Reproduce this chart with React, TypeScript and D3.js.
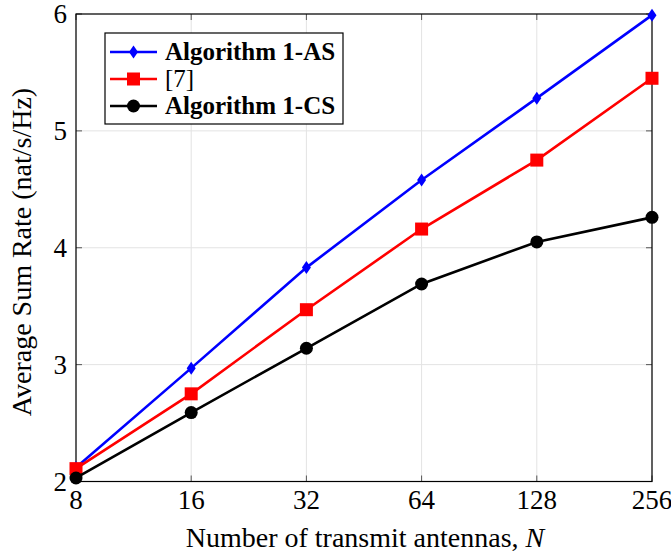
import * as d3 from "d3";

const antennas = [8, 16, 32, 64, 128, 256];
const algAS = [2.12, 2.97, 3.83, 4.58, 5.28, 5.99];
const ref7 = [2.11, 2.75, 3.47, 4.16, 4.75, 5.45];
const algCS = [2.03, 2.59, 3.14, 3.69, 4.05, 4.26];
const yTicks = [2, 3, 4, 5, 6];

const W = 671;
const H = 557;
const M = { left: 76, right: 652, top: 14, bottom: 481.5 };
const FONT = '"Liberation Serif", "DejaVu Serif", serif';
const TICK_FS = 27;
const LABEL_FS = 28;
const LEGEND_FS = 25;

const x = d3.scaleLog().base(2).domain([8, 256]).range([M.left, M.right]);
const y = d3.scaleLinear().domain([2, 6]).range([M.bottom, M.top]);

type Marker = "diamond" | "square" | "circle";

const series: { name: string; values: number[]; color: string; marker: Marker; bold: boolean }[] = [
  { name: "Algorithm 1-AS", values: algAS, color: "#0000ff", marker: "diamond", bold: true },
  { name: "[7]", values: ref7, color: "#ff0000", marker: "square", bold: false },
  { name: "Algorithm 1-CS", values: algCS, color: "#000000", marker: "circle", bold: true },
];

function MarkerShape({ kind, cx, cy, color }: { kind: Marker; cx: number; cy: number; color: string }) {
  if (kind === "diamond")
    return (
      <path
        d={`M${cx},${cy - 6.5} L${cx + 4.5},${cy} L${cx},${cy + 6.5} L${cx - 4.5},${cy} Z`}
        fill={color}
      />
    );
  if (kind === "square")
    return <rect x={cx - 6.5} y={cy - 6.5} width={13} height={13} fill={color} />;
  return <circle cx={cx} cy={cy} r={6.5} fill={color} />;
}

export default function App() {
  const line = d3
    .line<number>()
    .x((_, i) => x(antennas[i]))
    .y((d) => y(d));

  const tickLen = 6;

  return (
    <svg
      width={W}
      height={H}
      style={{ position: "absolute", left: 0, top: 0, background: "#fff", fontFamily: FONT }}
    >
      {/* grid */}
      {antennas.map((n) => (
        <line key={"gx" + n} x1={x(n)} x2={x(n)} y1={M.top} y2={M.bottom} stroke="#e3e3e3" strokeWidth={1} />
      ))}
      {yTicks.map((v) => (
        <line key={"gy" + v} x1={M.left} x2={M.right} y1={y(v)} y2={y(v)} stroke="#e3e3e3" strokeWidth={1} />
      ))}

      {/* ticks (inside, all four sides) */}
      {antennas.map((n) => (
        <g key={"tx" + n} stroke="#555" strokeWidth={1}>
          <line x1={x(n)} x2={x(n)} y1={M.bottom} y2={M.bottom - tickLen} />
          <line x1={x(n)} x2={x(n)} y1={M.top} y2={M.top + tickLen} />
        </g>
      ))}
      {yTicks.map((v) => (
        <g key={"ty" + v} stroke="#555" strokeWidth={1}>
          <line x1={M.left} x2={M.left + tickLen} y1={y(v)} y2={y(v)} />
          <line x1={M.right} x2={M.right - tickLen} y1={y(v)} y2={y(v)} />
        </g>
      ))}

      {/* frame */}
      <rect
        x={M.left}
        y={M.top}
        width={M.right - M.left}
        height={M.bottom - M.top}
        fill="none"
        stroke="#000"
        strokeWidth={1.2}
      />

      {/* series */}
      {series.map((s) => (
        <g key={s.name}>
          <path d={line(s.values) ?? ""} fill="none" stroke={s.color} strokeWidth={2.6} />
          {s.values.map((v, i) => (
            <MarkerShape key={i} kind={s.marker} cx={x(antennas[i])} cy={y(v)} color={s.color} />
          ))}
        </g>
      ))}

      {/* tick labels */}
      {antennas.map((n) => (
        <text key={"lx" + n} x={x(n)} y={509} textAnchor="middle" fontSize={TICK_FS}>
          {n}
        </text>
      ))}
      {yTicks.map((v) => (
        <text key={"ly" + v} x={M.left - 9} y={y(v) + 9} textAnchor="end" fontSize={TICK_FS}>
          {v}
        </text>
      ))}

      {/* axis titles */}
      <text x={365} y={547} textAnchor="middle" fontSize={LABEL_FS}>
        Number of transmit antennas, <tspan fontStyle="italic">N</tspan>
      </text>
      <text
        transform={`translate(31,252) rotate(-90)`}
        textAnchor="middle"
        fontSize={LABEL_FS}
      >
        Average Sum Rate (nat/s/Hz)
      </text>

      {/* legend */}
      <g>
        <rect x={105} y={33} width={238} height={91} fill="#fff" stroke="#000" strokeWidth={1.2} />
        {series.map((s, i) => {
          const cy = 52 + i * 27;
          return (
            <g key={"lg" + s.name}>
              <line x1={110} x2={157} y1={cy} y2={cy} stroke={s.color} strokeWidth={2.6} />
              <MarkerShape kind={s.marker} cx={133.5} cy={cy} color={s.color} />
              <text x={165} y={cy + 8} fontSize={LEGEND_FS} fontWeight={s.bold ? "bold" : "normal"}>
                {s.name}
              </text>
            </g>
          );
        })}
      </g>
    </svg>
  );
}
